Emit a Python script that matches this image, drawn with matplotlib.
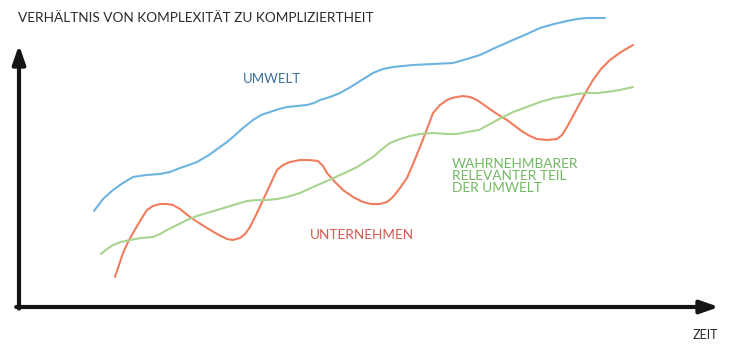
import matplotlib.pyplot as plt

umwelt_x = [75, 84, 94, 104, 114, 127, 141, 151, 161, 170, 178, 190, 201, 208, 214, 224,
            234, 242, 251, 260, 268, 278, 288, 295, 301, 311, 321, 330, 338, 346, 354,
            364, 374, 384, 394, 414, 434, 448, 461, 478, 494, 508, 521, 535, 548, 558,
            568, 578, 586]
umwelt_y = [96, 108, 117, 124, 130, 132, 133, 135, 139, 142, 145, 152, 160, 165, 170, 179,
            187, 192, 195, 198, 200, 201, 202, 204, 207, 210, 214, 219, 224, 229, 234,
            238, 240, 241, 242, 243, 244, 248, 252, 260, 267, 273, 279, 283, 286, 288,
            289, 289, 289]

unternehmen_x = [96, 100, 104, 109, 114, 121, 128, 134, 141, 148, 154, 161, 171, 180, 188,
                 198, 208, 214, 221, 226, 231, 237, 244, 251, 258, 264, 271, 276, 281, 290,
                 299, 304, 308, 316, 324, 334, 344, 352, 361, 368, 374, 381, 388, 394, 401,
                 408, 414, 421, 428, 433, 438, 444, 451, 458, 468, 478, 488, 496, 504, 511,
                 518, 528, 538, 543, 548, 554, 561, 567, 574, 582, 591, 602, 614]
unternehmen_y = [30, 42, 54, 65, 74, 86, 97, 101, 103, 103, 102, 98, 90, 84, 79,
                 73, 68, 67, 69, 73, 80, 92, 107, 122, 137, 142, 145, 146, 147, 147,
                 146, 141, 134, 125, 117, 110, 105, 103, 103, 105, 110, 119, 129, 143, 160,
                 178, 194, 202, 207, 209, 210, 211, 210, 207, 200, 193, 187, 181, 175, 171,
                 168, 167, 168, 172, 180, 191, 204, 215, 227, 238, 247, 255, 262]

teil_x = [82, 88, 94, 102, 111, 122, 134, 141, 148, 158, 168, 178, 188, 198, 208, 218,
          228, 238, 248, 258, 268, 281, 294, 308, 321, 330, 338, 346, 354, 362, 371,
          381, 391, 401, 414, 428, 438, 448, 460, 471, 482, 494, 508, 521, 535, 548,
          558, 568, 578, 588, 601, 614]
teil_y = [53, 58, 62, 65, 67, 69, 70, 73, 77, 82, 87, 91, 94, 97, 100, 103,
          106, 107, 107, 108, 110, 114, 120, 126, 132, 136, 140, 145, 150, 157, 164,
          168, 171, 173, 174, 173, 173, 175, 177, 183, 189, 195, 200, 205, 209, 211,
          213, 214, 214, 215, 217, 220]

plt.rcParams['font.family'] = ['Lato', 'DejaVu Sans']

fig = plt.figure(figsize=(7.29, 3.52), dpi=100)
ax = fig.add_axes([19 / 729, 45 / 352, 700 / 729, 262 / 352])
ax.set_xlim(0, 700)
ax.set_ylim(0, 262)
ax.axis("off")

stil = dict(lw=1.5, clip_on=False, solid_joinstyle="round", solid_capstyle="round")
ax.plot(umwelt_x, umwelt_y, color="#6cb4df", **stil)
ax.plot(unternehmen_x, unternehmen_y, color="#f17c5e", **stil)
ax.plot(teil_x, teil_y, color="#a8d48e", **stil)

# Achsenpfeile
pfeil = dict(arrowstyle="-|>,head_length=1.0,head_width=0.35", lw=3, color="#151515",
             shrinkA=0, shrinkB=0, mutation_scale=11)
ax.annotate("", xy=(0, 1), xytext=(0, -0.006), xycoords="axes fraction", arrowprops=pfeil)
ax.annotate("", xy=(1, 0), xytext=(-0.004, 0), xycoords="axes fraction", arrowprops=pfeil)

fig.text(18 / 729, 1 - 18 / 352, "VERHÄLTNIS VON KOMPLEXITÄT ZU KOMPLIZIERTHEIT",
         fontsize=9.8, color="#2b2b2b", va="center", ha="left")
fig.text(718 / 729, 1 - 335 / 352, "ZEIT", fontsize=9, color="#2b2b2b", va="center", ha="right")

ax.text(224, 228, "UMWELT", fontsize=9.5, color="#3d6e96", va="center", ha="left")
ax.text(291, 72, "UNTERNEHMEN", fontsize=9.8, color="#d25a50", va="center", ha="left")
ax.text(433, 131, "WAHRNEHMBARER\nRELEVANTER TEIL\nDER UMWELT", fontsize=9.8,
        color="#72b862", va="center", ha="left", linespacing=1.0)

fig.savefig("out.png", dpi=100)
